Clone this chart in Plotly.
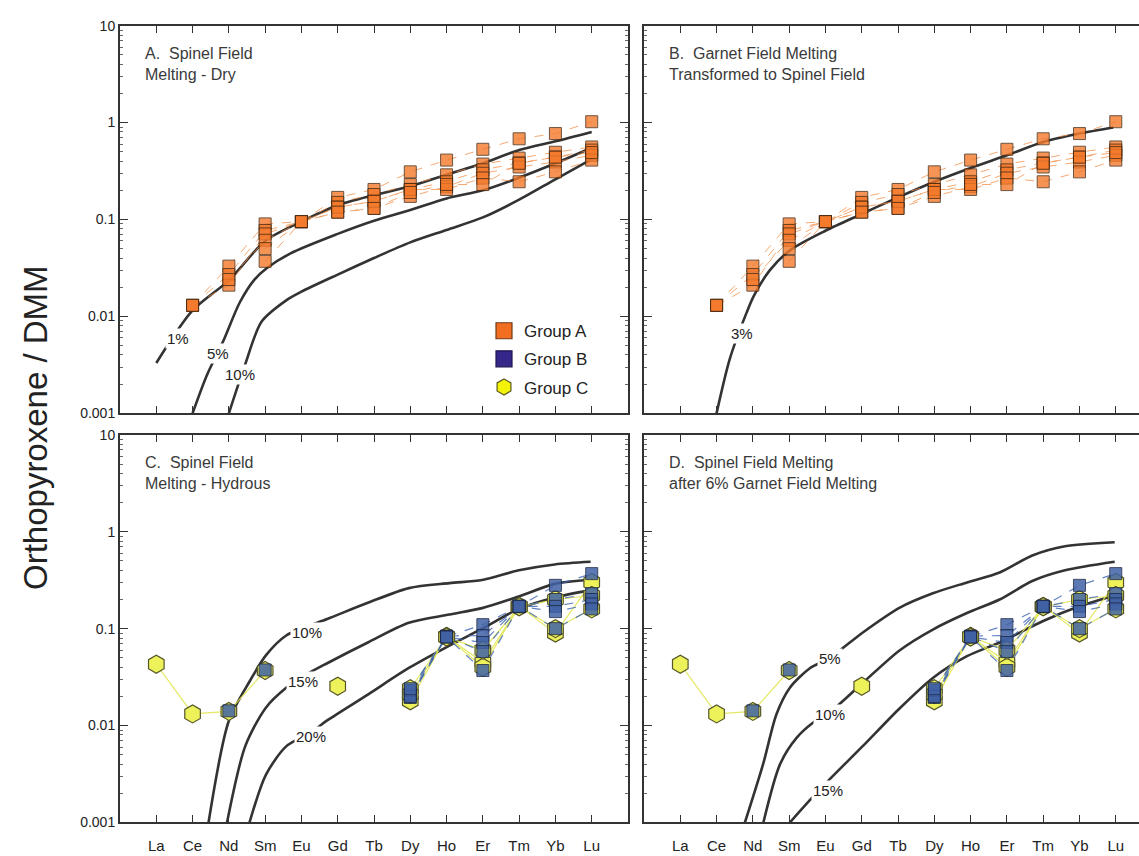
import plotly.graph_objects as go

# ---------------- data ----------------
elements = ["La", "Ce", "Nd", "Sm", "Eu", "Gd", "Tb", "Dy", "Ho", "Er", "Tm", "Yb", "Lu"]
xpos = list(range(1, 14))

# Group A orthopyroxene / DMM (one list per sample, None = not measured)
group_a = [
    [None, 0.013, 0.033, 0.090, 0.095, 0.169, 0.204, 0.31, 0.41, 0.53, 0.68, 0.77, 1.02],
    [None, 0.013, 0.027, 0.077, 0.095, 0.150, 0.181, 0.229, 0.289, 0.373, 0.43, 0.494, 0.56],
    [None, 0.013, 0.021, 0.071, 0.095, 0.134, 0.154, 0.204, 0.245, 0.325, 0.383, 0.44, 0.52],
    [None, None, 0.024, 0.061, 0.095, 0.119, 0.130, 0.173, 0.218, 0.30, 0.348, 0.392, 0.46],
    [None, None, None, 0.050, 0.095, 0.134, 0.154, 0.204, 0.204, 0.268, 0.245, 0.31, 0.41],
    [None, None, None, 0.037, 0.095, 0.119, 0.130, 0.190, 0.230, 0.229, 0.38, 0.44, 0.49],
]

# Group B
group_b = [
    [None, None, 0.0142, 0.0375, None, None, None, 0.0195, 0.083, 0.110, 0.170, 0.280, 0.370],
    [None, None, None, None, None, None, None, 0.021, 0.084, 0.085, 0.168, 0.200, 0.230],
    [None, None, None, None, None, None, None, 0.023, 0.082, 0.072, 0.170, 0.170, 0.200],
    [None, None, None, None, None, None, None, 0.020, 0.083, 0.058, 0.170, 0.150, 0.180],
    [None, None, None, None, None, None, None, 0.024, 0.082, 0.037, 0.170, 0.100, 0.160],
]

# Group C
group_c = [
    [0.043, 0.0132, 0.0140, 0.037, None, 0.0255, None, 0.018, 0.083, 0.045, 0.170, 0.090, 0.300],
    [None, None, None, None, None, None, None, 0.024, 0.083, 0.040, 0.170, 0.100, 0.160],
    [None, None, None, None, None, None, None, 0.021, 0.082, 0.060, 0.168, 0.200, 0.220],
]

# Melting model curves: (x positions, values)
model_a = {
    "1%": ([1, 2, 3, 4, 5, 6, 7, 8, 9, 10, 11, 12, 13],
           [0.0033, 0.0115, 0.0235, 0.060, 0.095, 0.140, 0.178, 0.22, 0.29, 0.38, 0.52, 0.64, 0.80]),
    "5%": ([2.0, 2.4, 2.84, 3.3, 3.7, 4.05, 4.7, 6.0, 7.0, 8.0, 9.0, 10.0, 11.0, 12.0, 13.0],
           [0.001, 0.0025, 0.0055, 0.0139, 0.0238, 0.0315, 0.0447, 0.071, 0.097, 0.125, 0.165, 0.20, 0.27, 0.38, 0.55]),
    "10%": ([3.0, 3.45, 3.9, 4.6, 5.0, 6.0, 7.0, 8.0, 9.0, 10.0, 11.0, 12.0, 13.0],
            [0.001, 0.0032, 0.0088, 0.0148, 0.018, 0.027, 0.040, 0.058, 0.078, 0.105, 0.16, 0.26, 0.42]),
}
model_b = {
    "3%": ([2.0, 2.37, 2.83, 3.03, 3.47, 4.02, 5.0, 6.0, 7.0, 8.0, 9.0, 10.0, 11.0, 12.0, 12.93],
           [0.001, 0.0037, 0.011, 0.0164, 0.030, 0.048, 0.0765, 0.114, 0.169, 0.245, 0.34, 0.46, 0.63, 0.77, 0.89]),
}
model_c = {
    "10%": ([2.44, 3.0, 3.57, 4.02, 4.58, 5.14, 5.71, 6.83, 7.96, 9.08, 9.98, 10.99, 11.98, 12.97],
            [0.001, 0.0112, 0.0285, 0.053, 0.085, 0.105, 0.126, 0.185, 0.262, 0.295, 0.318, 0.40, 0.46, 0.49]),
    "15%": ([2.95, 3.45, 4.02, 4.58, 5.03, 5.71, 6.83, 7.96, 9.08, 9.98, 10.99, 11.98, 12.97],
            [0.001, 0.0061, 0.0153, 0.0245, 0.032, 0.044, 0.072, 0.115, 0.14, 0.163, 0.215, 0.29, 0.32]),
    "20%": ([3.57, 4.02, 4.58, 5.26, 5.71, 6.83, 7.96, 9.08, 9.98, 10.99, 11.98, 12.97],
            [0.001, 0.0031, 0.0061, 0.0085, 0.0113, 0.0209, 0.0393, 0.067, 0.10, 0.16, 0.21, 0.25]),
}
model_d = {
    "5%": ([2.78, 3.29, 3.65, 4.02, 4.57, 5.12, 6.04, 7.05, 7.96, 8.9, 9.8, 10.7, 11.6, 12.97],
           [0.001, 0.0041, 0.0131, 0.0246, 0.039, 0.050, 0.092, 0.165, 0.232, 0.30, 0.38, 0.57, 0.71, 0.78]),
    "10%": ([3.29, 3.75, 4.21, 4.7, 5.12, 6.0, 7.05, 7.96, 8.9, 9.8, 10.7, 11.6, 12.97],
            [0.001, 0.0040, 0.0075, 0.011, 0.0137, 0.027, 0.060, 0.098, 0.145, 0.20, 0.31, 0.40, 0.49]),
    "15%": ([4.02, 4.57, 5.12, 6.04, 7.0, 7.96, 8.9, 9.8, 11.0, 12.0, 12.97],
            [0.001, 0.0017, 0.0028, 0.0062, 0.0145, 0.031, 0.052, 0.072, 0.12, 0.17, 0.22]),
}

# label positions for curve labels: (x, log10 y)
labels_a = {"1%": (1.6, -2.23), "5%": (2.7, -2.38), "10%": (3.3, -2.595)}
labels_b = {"3%": (2.7, -2.18)}
labels_c = {"10%": (5.15, -1.04), "15%": (5.03, -1.548), "20%": (5.26, -2.117)}
labels_d = {"5%": (5.12, -1.305), "10%": (5.12, -1.883), "15%": (5.07, -2.665)}

ytick_vals = [0.001, 0.01, 0.1, 1, 10]
ytick_text = ["0.001", "0.01", "0.1", "1", "10"]

# ---------------- layout geometry ----------------
W, H = 1139, 856
FONT = "Liberation Sans, Arial, Helvetica, sans-serif"
px_per_cat = 36.29
left_dom = [120 / W, 628 / W]
right_dom = [644 / W, 1.0]
right_range = [0, (W - 644) / px_per_cat]
top_dom = [(H - 413) / H, (H - 18) / H]
bot_dom = [(H - 830) / H, (H - 435) / H]

ORANGE = "#f47a2c"
ORANGE_LINE = "rgba(240,140,70,0.75)"
BLUE = "#4062a6"
BLUE_LINE = "rgba(60,100,180,0.8)"
YELLOW = "#eef25a"
YELLOW_LINE = "rgba(225,230,80,0.9)"
CURVE = "#333333"
HREE_START = elements.index("Dy")  # group B tie-lines are drawn for the heavy REE

fig = go.Figure()

panels = [
    ("x", "y", model_a, labels_a, "A"),
    ("x2", "y2", model_b, labels_b, "B"),
    ("x3", "y3", model_c, labels_c, "C"),
    ("x4", "y4", model_d, labels_d, "D"),
]

for xa, ya, model, labels, tag in panels:
    for name, (mx, my) in model.items():
        fig.add_trace(go.Scatter(
            x=mx, y=my, xaxis=xa, yaxis=ya, mode="lines",
            line=dict(color=CURVE, width=2.6, shape="spline", smoothing=0.8),
            showlegend=False, hoverinfo="skip"))
    if tag in ("A", "B"):
        for s in group_a:
            fig.add_trace(go.Scatter(
                x=xpos, y=s, xaxis=xa, yaxis=ya, mode="lines", connectgaps=True,
                line=dict(color=ORANGE_LINE, width=1, dash="dash"),
                showlegend=False, hoverinfo="skip"))
        for s in group_a:
            fig.add_trace(go.Scatter(
                x=xpos, y=s, xaxis=xa, yaxis=ya, mode="markers",
                marker=dict(symbol="square", size=12, color=ORANGE, opacity=0.8,
                            line=dict(color="#4a2a10", width=1)),
                showlegend=False, hoverinfo="skip"))
    else:
        for s in group_c:
            fig.add_trace(go.Scatter(
                x=xpos, y=s, xaxis=xa, yaxis=ya, mode="lines", connectgaps=False,
                line=dict(color=YELLOW_LINE, width=1.2),
                showlegend=False, hoverinfo="skip"))
        for s in group_b:
            fig.add_trace(go.Scatter(
                x=xpos[HREE_START:], y=s[HREE_START:], xaxis=xa, yaxis=ya,
                mode="lines", connectgaps=False,
                line=dict(color=BLUE_LINE, width=1.2, dash="dash"),
                showlegend=False, hoverinfo="skip"))
        for s in group_c:
            fig.add_trace(go.Scatter(
                x=xpos, y=s, xaxis=xa, yaxis=ya, mode="markers",
                marker=dict(symbol="hexagon", size=18, color=YELLOW,
                            line=dict(color="#55552a", width=1.2)),
                showlegend=False, hoverinfo="skip"))
        for s in group_b:
            fig.add_trace(go.Scatter(
                x=xpos, y=s, xaxis=xa, yaxis=ya, mode="markers",
                marker=dict(symbol="square", size=12, color=BLUE, opacity=0.85,
                            line=dict(color="#1d2a48", width=1)),
                showlegend=False, hoverinfo="skip"))
    for name, (lx, ly) in labels.items():
        fig.add_annotation(x=lx, y=ly, xref=xa, yref=ya, text=name, showarrow=False,
                           font=dict(family=FONT, size=15, color="#222222"),
                           bgcolor="white", borderpad=1)

# legend entries
legend_items = [
    ("Group A", "square", "#f26d1f", "#6a3a1a"),
    ("Group B", "square", "#35278a", "#1c1550"),
    ("Group C", "hexagon", "#f5f20a", "#5a5a20"),
]
for name, sym, col, edge in legend_items:
    fig.add_trace(go.Scatter(x=[None], y=[None], mode="markers", name=name,
                             legendgroup=name,
                             marker=dict(symbol=sym, size=20, color=col,
                                         line=dict(color=edge, width=1.2))))

minor_vals = [m * 10 ** e for e in range(-3, 1) for m in range(2, 10)]


def xaxis(domain, rng, anchor, labels_on):
    return dict(domain=domain, range=rng, anchor=anchor, tickmode="array",
                tickvals=xpos, ticktext=elements if labels_on else [""] * 13,
                showticklabels=labels_on, ticks="inside", ticklen=7, tickwidth=1.2,
                tickcolor="#333", showline=True, linecolor="#333", linewidth=2,
                mirror="ticks", showgrid=False, zeroline=False, ticklabelstandoff=9,
                tickfont=dict(family=FONT, size=15, color="#222"))


def yaxis(domain, anchor, labels_on, mirror):
    return dict(domain=domain, range=[-3, 1], type="log", anchor=anchor,
                tickmode="array", tickvals=ytick_vals, ticktext=ytick_text,
                showticklabels=labels_on, ticks="inside", ticklen=8, tickwidth=1.2,
                tickcolor="#333", showline=True, linecolor="#333", linewidth=2,
                mirror=mirror, showgrid=False, zeroline=False,
                minor=dict(ticks="inside", ticklen=3, tickcolor="#666", tickvals=minor_vals,
                           showgrid=False),
                tickfont=dict(family=FONT, size=14, color="#222"))


fig.update_layout(
    width=W, height=H, autosize=False,
    margin=dict(l=0, r=0, t=0, b=0),
    paper_bgcolor="white", plot_bgcolor="white",
    font=dict(family=FONT, color="#222"),
    xaxis=xaxis(left_dom, [0, 14], "y", False),
    yaxis=yaxis(top_dom, "x", True, "ticks"),
    xaxis2=xaxis(right_dom, right_range, "y2", False),
    yaxis2=yaxis(top_dom, "x2", False, False),
    xaxis3=xaxis(left_dom, [0, 14], "y3", True),
    yaxis3=yaxis(bot_dom, "x3", True, "ticks"),
    xaxis4=xaxis(right_dom, right_range, "y4", True),
    yaxis4=yaxis(bot_dom, "x4", False, False),
    showlegend=True,
    legend=dict(x=484 / W, y=(H - 311) / H, xanchor="left", yanchor="top",
                bgcolor="rgba(0,0,0,0)", font=dict(family=FONT, size=17, color="#222"),
                itemsizing="trace", tracegroupgap=3),
)

# panel titles
titles = [
    (143, 36, "A.  Spinel Field<br>Melting - Dry"),
    (667, 36, "B.  Garnet Field Melting<br>Transformed to Spinel Field"),
    (143, 452, "C.  Spinel Field<br>Melting - Hydrous"),
    (667, 452, "D.  Spinel Field Melting<br>after 6% Garnet Field Melting"),
]
for tx, ty, txt in titles:
    fig.add_annotation(x=tx / W, y=(H - ty) / H, xref="paper", yref="paper",
                       xanchor="left", yanchor="top", align="left", text=txt,
                       showarrow=False, font=dict(family=FONT, size=16, color="#3a3a3a"))

fig.add_annotation(x=35 / W, y=(H - 428) / H, xref="paper", yref="paper",
                   xanchor="center", yanchor="middle",
                   text="Orthopyroxene / DMM", textangle=-90, showarrow=False,
                   font=dict(family=FONT, size=33, color="#222"))

fig.write_html("out.html")
